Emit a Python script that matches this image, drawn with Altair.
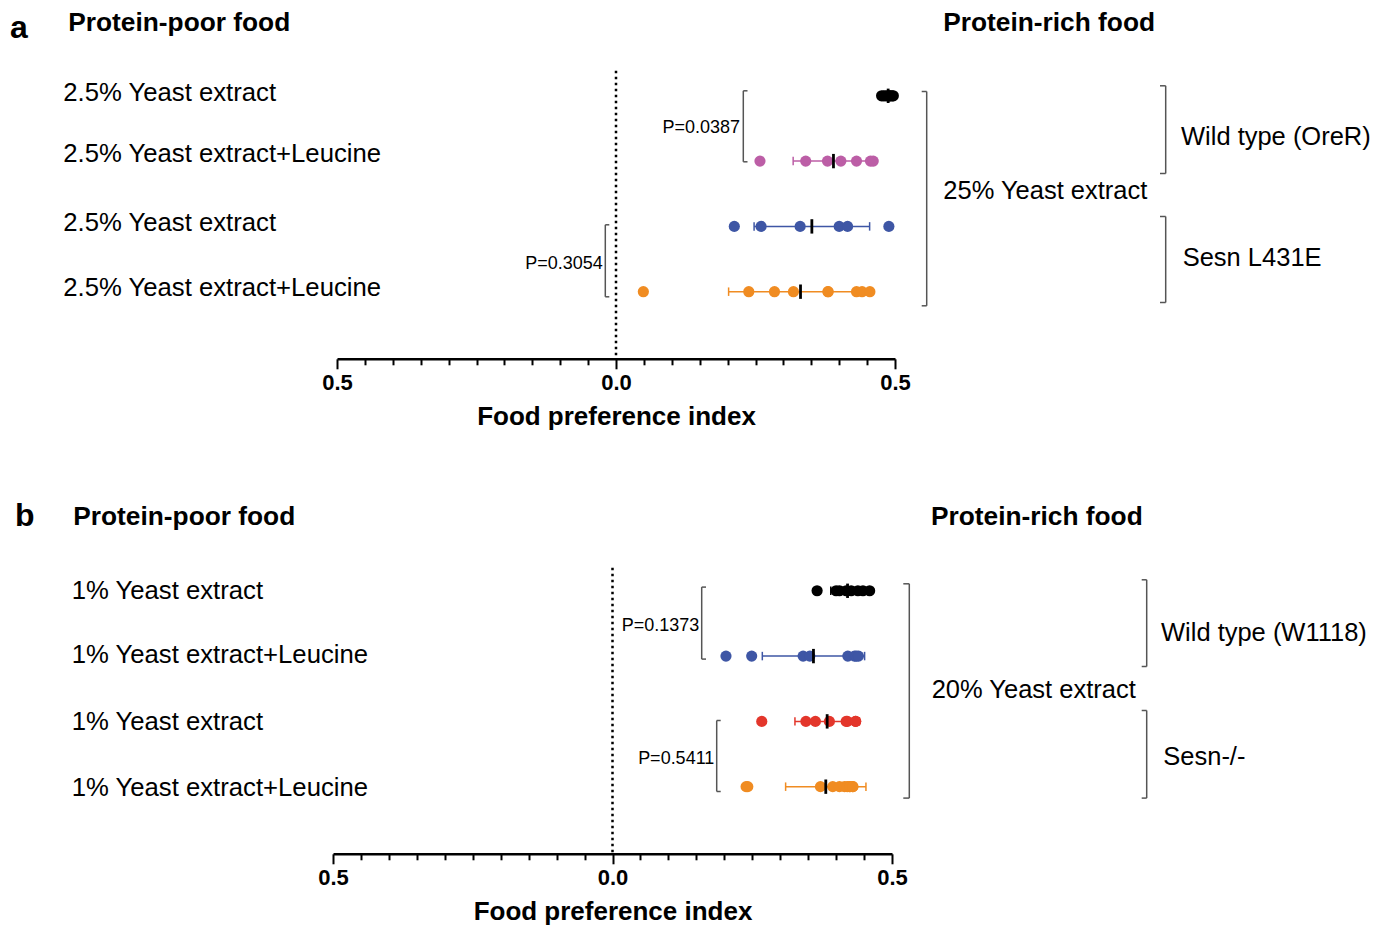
import altair as alt
import pandas as pd

FONT = "Liberation Sans"

# ---------------- Panel a data ----------------
a_rows = ["2.5% Yeast extract", "2.5% Yeast extract+Leucine",
          "2.5% Yeast extract", "2.5% Yeast extract+Leucine"]
a_wt_ye = [0.476, 0.480, 0.484, 0.488, 0.490, 0.492, 0.495, 0.497]
a_wt_leu = [0.258, 0.340, 0.379, 0.403, 0.431, 0.456, 0.461]
a_sesn_ye = [0.212, 0.260, 0.330, 0.400, 0.415, 0.489]
a_sesn_leu = [0.049, 0.238, 0.284, 0.318, 0.380, 0.380, 0.431, 0.441, 0.455]
a_colors = ["#000000", "#BC5EA6", "#3E56A5", "#F08C22"]
a_pvalues = ["P=0.0387", "P=0.3054"]
a_diet = "25% Yeast extract"
a_genotypes = ["Wild type (OreR)", "Sesn L431E"]

# ---------------- Panel b data ----------------
b_rows = ["1% Yeast extract", "1% Yeast extract+Leucine",
          "1% Yeast extract", "1% Yeast extract+Leucine"]
b_wt_ye = [0.366, 0.400, 0.406, 0.418, 0.427, 0.439, 0.448, 0.460]
b_wt_leu = [0.203, 0.249, 0.341, 0.353, 0.421, 0.433, 0.436, 0.440]
b_sesn_ye = [0.267, 0.346, 0.363, 0.388, 0.418, 0.420, 0.435, 0.435]
b_sesn_leu = [0.239, 0.242, 0.372, 0.394, 0.406, 0.415, 0.420, 0.424, 0.425, 0.430, 0.430]
b_colors = ["#000000", "#3E56A5", "#E3362B", "#F08C22"]
b_pvalues = ["P=0.1373", "P=0.5411"]
b_diet = "20% Yeast extract"
b_genotypes = ["Wild type (W1118)", "Sesn-/-"]

headers = ["Protein-poor food", "Protein-rich food"]
x_title = "Food preference index"

tick_vals = [round(-0.5 + 0.05 * i, 2) for i in range(21)]
MAJOR = "abs(datum.value) == 0.5 || datum.value == 0"

BRACKET = "#555555"


def one():
    return pd.DataFrame({"k": [0]})


def text_layer(txt, x, y, size, bold=False, align="left"):
    return alt.Chart(pd.DataFrame({"t": [txt]})).mark_text(
        align=align, baseline="alphabetic", font=FONT, fontSize=size,
        fontWeight="bold" if bold else "normal", color="black"
    ).encode(x=alt.value(x), y=alt.value(y), text="t:N")


def bracket(x, y1, y2, tick_to):
    base = alt.Chart(one()).mark_rule(color=BRACKET, strokeWidth=1.5)
    v = base.encode(x=alt.value(x), y=alt.value(y1), y2=alt.value(y2))
    t1 = base.encode(x=alt.value(x), x2=alt.value(tick_to), y=alt.value(y1))
    t2 = base.encode(x=alt.value(x), x2=alt.value(tick_to), y=alt.value(y2))
    return [v, t1, t2]


def panel(letter, groups, colors, rows, pvals, diet, genos, W, H, ydom, xrange, pos):
    recs = []
    for i, vals in enumerate(groups):
        for v in vals:
            recs.append({"row": i, "val": v, "grp": f"{letter}{i}"})
    df = pd.DataFrame(recs)
    gnames = [f"{letter}{i}" for i in range(len(groups))]

    xs = alt.Scale(domain=[-0.5, 0.5], nice=False, zero=False, range=xrange)
    ys = alt.Scale(domain=ydom, nice=False, zero=False)
    col = alt.Color("grp:N", scale=alt.Scale(domain=gnames, range=colors), legend=None)

    axis = alt.Axis(
        values=tick_vals,
        labelExpr=f"({MAJOR}) ? format(abs(datum.value), '.1f') : ''",
        tickSize={"condition": {"test": MAJOR, "value": 10}, "value": 6},
        tickWidth=2, tickColor="black", domainColor="black", domainWidth=2.5,
        labelFont=FONT, labelFontSize=22, labelFontWeight="bold", labelColor="black",
        labelFlush=False, labelOverlap=False, labelPadding=4,
        title=x_title, titleFont=FONT, titleFontSize=26, titleFontWeight="bold",
        titleColor="black", titlePadding=10, grid=False,
    )

    zero = alt.Chart(pd.DataFrame({"x": [0.0]})).mark_rule(
        color="black", strokeWidth=2.5, strokeDash=[2.5, 3.5]
    ).encode(x=alt.X("x:Q", scale=xs, axis=axis), y=alt.value(0), y2=alt.value(H))

    base = alt.Chart(df)
    stats = base.transform_aggregate(
        mean="mean(val)", sd="stdev(val)", groupby=["row", "grp"]
    ).transform_calculate(
        lo="datum.mean - (isValid(datum.sd) ? datum.sd : 0)",
        hi="datum.mean + (isValid(datum.sd) ? datum.sd : 0)",
        ytop="datum.row - 0.065",
        ybot="datum.row + 0.065",
        mtop="datum.row - 0.11",
        mbot="datum.row + 0.11",
    )
    err = stats.mark_rule(strokeWidth=1.5).encode(
        x=alt.X("lo:Q", scale=xs, axis=axis), x2="hi:Q",
        y=alt.Y("row:Q", scale=ys, axis=None), color=col)
    cap_lo = stats.mark_rule(strokeWidth=1.5).encode(
        x=alt.X("lo:Q", scale=xs, axis=axis),
        y=alt.Y("ytop:Q", scale=ys, axis=None), y2="ybot:Q", color=col)
    cap_hi = stats.mark_rule(strokeWidth=1.5).encode(
        x=alt.X("hi:Q", scale=xs, axis=axis),
        y=alt.Y("ytop:Q", scale=ys, axis=None), y2="ybot:Q", color=col)
    pts = base.mark_circle(size=125, opacity=1).encode(
        x=alt.X("val:Q", scale=xs, axis=axis),
        y=alt.Y("row:Q", scale=ys, axis=None), color=col)
    mean_tick = stats.mark_rule(strokeWidth=2.8, color="black").encode(
        x=alt.X("mean:Q", scale=xs, axis=axis),
        y=alt.Y("mtop:Q", scale=ys, axis=None), y2="mbot:Q")

    layers = [zero, err, cap_lo, cap_hi, pts, mean_tick]

    p = pos
    layers.append(text_layer(letter, p["letter"][0], p["letter"][1], 32, bold=True))
    layers.append(text_layer(headers[0], p["h0"][0], p["h0"][1], 26.3, bold=True))
    layers.append(text_layer(headers[1], p["h1"][0], p["h1"][1], 26.3, bold=True))
    for lab, yy in zip(rows, p["rows_y"]):
        layers.append(text_layer(lab, p["rows_x"], yy, 25.7))
    for pv, (tx, ty) in zip(pvals, p["pv"]):
        layers.append(text_layer(pv, tx, ty, 18, align="right"))
    layers.append(text_layer(diet, p["diet"][0], p["diet"][1], 25.5))
    for g, (gx, gy) in zip(genos, p["geno"]):
        layers.append(text_layer(g, gx, gy, 25.5))
    for b in p["brackets"]:
        layers.extend(bracket(*b))

    return alt.layer(*layers).properties(width=W, height=H)


pos_a = {
    "letter": (-327, -33), "h0": (-268.7, -39.3), "h1": (606.3, -39.3),
    "rows_x": -273.7, "rows_y": [30.7, 91.0, 160.7, 225.0],
    "pv": [(403, 62.7), (265.7, 198.3)],
    "diet": (606.3, 128.3),
    "geno": [(844, 74), (845.7, 195)],
    "brackets": [(406.3, 20, 91, 410.5), (268.3, 154, 226, 272.3),
                 (589.7, 20.7, 235, 584.7), (828.7, 15, 102.7, 823),
                 (828.7, 145.7, 231.7, 823)],
}
# panel b coordinates relative to a plot origin shared with panel a (4 px right of b's axis start)
DX = -4
pos_b = {
    "letter": (-318 + DX, -42), "h0": (-259.7 + DX, -42.3), "h1": (598 + DX, -42.3),
    "rows_x": -261.3 + DX, "rows_y": [31, 95, 162, 228],
    "pv": [(366.3 + DX, 63.7), (381.3 + DX, 196)],
    "diet": (598.7 + DX, 130.3),
    "geno": [(828 + DX, 73.7), (830.3 + DX, 197)],
    "brackets": [(368.7 + DX, 19.3, 91.3, 373 + DX), (383.7 + DX, 152.7, 223.7, 387.7 + DX),
                 (576.3 + DX, 16, 230.3, 570.3 + DX), (813.7 + DX, 12, 98.7, 808.7 + DX),
                 (813.7 + DX, 142.7, 230.3, 808.7 + DX)],
}

pa = panel("a", [a_wt_ye, a_wt_leu, a_sesn_ye, a_sesn_leu], a_colors, a_rows,
           a_pvalues, a_diet, a_genotypes, 558, 288, [4.028, -0.383], [0, 558], pos_a)
pb = panel("b", [b_wt_ye, b_wt_leu, b_sesn_ye, b_sesn_leu], b_colors, b_rows,
           b_pvalues, b_diet, b_genotypes, 558, 286, [4.028, -0.352], [DX, 559 + DX], pos_b)

chart = alt.vconcat(pa, pb, spacing=70).resolve_scale(
    color="independent", x="independent", y="independent"
).properties(
    padding={"left": 2, "top": 1.8, "right": 0, "bottom": 0}
).configure(background="white").configure_view(stroke="transparent", strokeWidth=0)

chart.save("out.html", embed_options={"renderer": "svg", "actions": False})
